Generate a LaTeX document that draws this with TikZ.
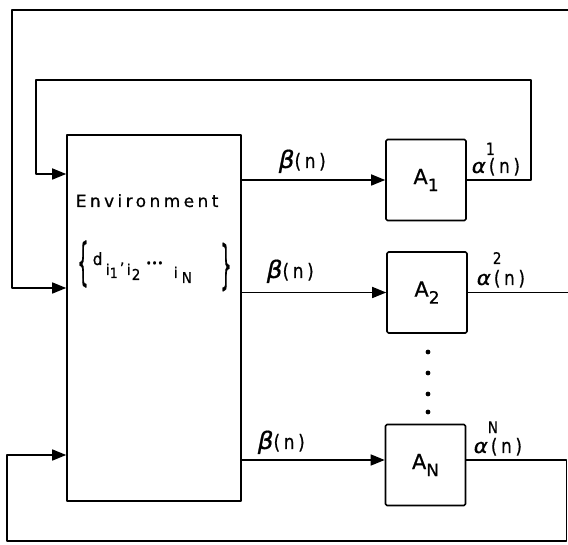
\documentclass[tikz,border=0pt]{standalone}
\usepackage{fontspec}
\setmainfont{DejaVu Sans}[FakeBold=0.6]
\newfontfamily\lab[LetterSpace=18,FakeStretch=0.85,FakeBold=0.7]{DejaVu Sans}
\newfontfamily\boxf[LetterSpace=6,FakeBold=0.7]{DejaVu Sans}
\newfontfamily\envf[LetterSpace=20,FakeBold=0.6]{DejaVu Sans}
\newfontfamily\setf[FakeStretch=0.9,FakeBold=0.7]{DejaVu Sans}
\usetikzlibrary{arrows.meta}
\newcommand{\bet}{\scalebox{1.45}[1.2]{\itshape β}}
\newcommand{\alp}{\scalebox{1.25}[1]{\itshape α}}
\begin{document}
\begin{tikzpicture}[x=1pt,y=-1pt,line width=1.6pt,line join=round,
  box/.style={draw,rounded corners=1.5pt,minimum width=80pt,minimum height=81pt,inner sep=0pt,
    font=\boxf\fontsize{21}{22}\selectfont},
  envbox/.style={draw,minimum width=174pt,minimum height=366pt,inner sep=0pt},
  arr/.style={-{Triangle[length=14pt,width=11pt]}},
  lbl/.style={font=\lab\fontsize{20}{22}\selectfont,inner sep=0pt,anchor=base west},
  st/.style={inner sep=0pt,anchor=base west,font=\setf\fontsize{#1}{#1}\selectfont},
  brace/.style={inner sep=0pt,font=\envf\fontsize{17}{17}\selectfont}]
\useasboundingbox (0,0) rectangle (568,545);
% blocks
\node[envbox] (env) at (154,318) {};
\node[box] (a1) at (426,180) {A\raisebox{-7pt}{\fontsize{17}{17}\selectfont 1}};
\node[box] (a2) at (427,292.5) {A\raisebox{-7pt}{\fontsize{17}{17}\selectfont 2}};
\node[box] (an) at (425.5,465) {A\raisebox{-7pt}{\fontsize{17}{17}\selectfont N}};
% environment text
\node[lbl,font=\envf\fontsize{17}{20}\selectfont] (envtxt) at (75,207) {Environment};
\node[brace] (lbr) at (83,264) {\scalebox{1}[3.0]{\{}};
\node[brace] (rbr) at (226,267) {\scalebox{1}[3.1]{\}}};
\node[st=17] (sd) at (92,265) {d};
\node[st=15] (si1) at (105,275) {i};
\node[st=14] (sn1) at (109,278) {1};
\node[st=16] (sc) at (119,274) {’};
\node[st=15] (si2) at (126,275) {i};
\node[st=15] (sn2) at (131,280) {2};
\node[st=11] (sdots) at (145,267) {•••};
\node[st=15] (si3) at (173,278) {i};
\node[st=15] (sn3) at (181,283) {N};
% dots
\foreach \yy in {352,373,394,412} \fill (428,\yy) circle (2.4pt);
% forward arrows
\draw[arr] (env.east |- a1.west) -- (a1.west);
\draw[arr] (env.east |- a2.west) -- (a2.west);
\draw[arr] ([yshift=5pt]env.east |- an.west) -- ([yshift=5pt]an.west);
% labels beta
\node[lbl] (b1) at (278,168) {\bet(n)};
\node[lbl] (b2) at (266,278) {\bet(n)};
\node[lbl] (b3) at (257,449) {\bet(n)};
% labels alpha
\node[lbl] (al1) at (471,173) {\alp\rlap{\kern0pt\raisebox{18pt}{\fontsize{17}{17}\selectfont 1}}\kern3pt(n)};
\node[lbl] (al2) at (476,285) {\alp\rlap{\kern2pt\raisebox{21pt}{\fontsize{16}{16}\selectfont 2}}\kern3pt(n)};
\node[lbl] (aln) at (473,453) {\alp\rlap{\kern0pt\raisebox{20pt}{\fontsize{16}{16}\selectfont N}}\kern3pt(n)};
% feedback loops
\coordinate (c1a) at (531,180);
\coordinate (c1b) at (531,80);
\coordinate (c1c) at (36,80);
\coordinate (c1d) at (36,174);
\draw[arr] (a1.east) -- (c1a) -- (c1b) -- (c1c) -- (c1d) -- (env.west |- c1d);
\coordinate (c2a) at (572,292.5);
\coordinate (c2b) at (572,10);
\coordinate (c2c) at (12,10);
\coordinate (c2d) at (12,288);
\draw[arr] (a2.east) -- (c2a) -- (c2b) -- (c2c) -- (c2d) -- (env.west |- c2d);
\coordinate (c3a) at (566.5,460);
\coordinate (c3b) at (566.5,541);
\coordinate (c3c) at (7,541);
\coordinate (c3d) at (7,455);
\draw[arr] ([yshift=5pt]an.east) -- (c3a) -- (c3b) -- (c3c) -- (c3d) -- (env.west |- c3d);
\end{tikzpicture}
\end{document}
